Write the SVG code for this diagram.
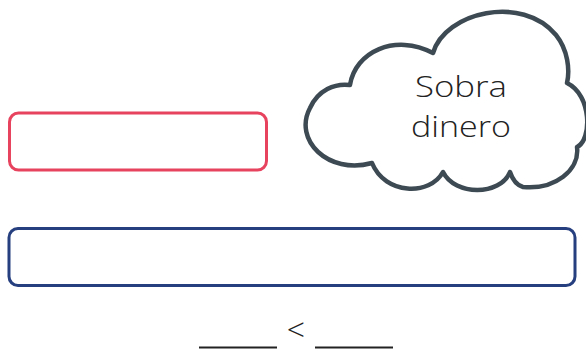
<svg xmlns="http://www.w3.org/2000/svg" width="586" height="354" viewBox="0 0 586 354">
<style>
.box{fill:#fff;stroke-width:3}
.t{font-family:"Open Sans","Liberation Sans",sans-serif;fill:#222;font-weight:300}
</style>
<rect width="586" height="354" fill="#fff"/>
<g id="red-box"><rect class="box" x="9.5" y="113" width="257" height="57" rx="9" stroke="#E8435E"/></g>
<g id="blue-box"><rect class="box" x="9" y="228.5" width="566" height="57" rx="9" stroke="#253F7F"/></g>
<g id="cloud">
<path d="M433,53 C445,12 522,-6 556,35 C568,50 570,70 567,83 C592,95 592,140 577,147 C580,170 555,190 523,187 C515,185 512,178 510,172 C500,196 455,196 443,172 C430,196 385,195 372,163 C328,175 293,140 310,108 C318,90 335,83 350,85 C355,52 395,33 433,53 Z" fill="#fff" stroke="#3D4A53" stroke-width="4.5" stroke-linejoin="round"/>
<text class="t" x="461" y="97" font-size="29" text-anchor="middle" textLength="92" lengthAdjust="spacingAndGlyphs">Sobra</text>
<text class="t" x="461" y="137" font-size="29" text-anchor="middle" textLength="100" lengthAdjust="spacingAndGlyphs">dinero</text>
</g>
<g id="comparison">
<text class="t" x="296" y="341" font-size="32" text-anchor="middle">&lt;</text>
<line x1="199" y1="347.5" x2="277" y2="347.5" stroke="#222" stroke-width="2"/>
<line x1="315" y1="347.5" x2="393" y2="347.5" stroke="#222" stroke-width="2"/>
</g>
</svg>
